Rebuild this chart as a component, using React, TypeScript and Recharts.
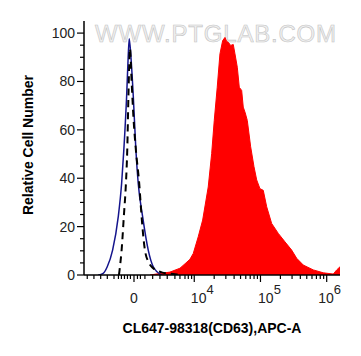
import React from 'react';
import { ComposedChart, Area, Line, XAxis, YAxis } from 'recharts';

// x values are in display "decades" (biexponential axis, 0 sits at 3.09)
const stainedT = [3.331, 3.452, 3.633, 3.784, 3.875, 3.935, 3.985, 4.06, 4.127, 4.211, 4.263, 4.302, 4.347, 4.388, 4.429, 4.464, 4.49, 4.514, 4.55, 4.589, 4.615, 4.65, 4.68, 4.716, 4.74, 4.77, 4.801, 4.852, 4.902, 4.943, 4.992, 5.042, 5.094, 5.169, 5.269, 5.37, 5.471, 5.547, 5.647, 5.798, 5.949, 6.1, 6.151, 6.201];
const stainedV = [0, 0.5, 1.2, 2.8, 5, 6.5, 8.9, 15.8, 22.7, 36.4, 50.2, 63.9, 77.6, 91.4, 96.9, 98.2, 96.5, 96.2, 94.9, 95.3, 91.4, 85.9, 77.6, 76.3, 69.4, 67, 63.9, 53, 44.8, 39.3, 35.7, 35, 28.2, 21.3, 17.2, 13.7, 10.3, 6.9, 4.1, 2.1, 0.9, 0.4, 2.1, 3.4];

const blankT = [2.55, 2.625, 2.686, 2.767, 2.852, 2.903, 2.936, 2.979, 3.002, 3.018, 3.044, 3.079, 3.119, 3.154, 3.221, 3.305, 3.381, 3.508];
const blankV = [0, 0.7, 3.4, 10.3, 24, 37.8, 51.5, 74, 90, 97.7, 90, 74, 51.5, 37.8, 24, 10.3, 3.4, 0];

const isotypeT = [2.863, 2.878, 2.903, 2.936, 2.968, 2.988, 3.006, 3.029, 3.054, 3.082, 3.119, 3.169, 3.205, 3.255, 3.316, 3.381, 3.508, 3.708, 3.784];
const isotypeV = [0, 3.4, 10.3, 24, 37.8, 51.5, 74, 93.6, 80, 65, 51.5, 37.8, 24, 10.3, 5, 2.8, 1.1, 0.3, 0];

const xMajor = [3.09, 4, 5, 6];
const xMajorLabels = ['0', '4', '5', '6'];
const xMinor = [2.384, 2.485, 2.587, 2.687, 2.788, 2.855, 2.9, 2.946, 2.991, 3.036, 3.142, 3.187, 3.255, 3.372, 3.482, 3.592, 3.708, 3.784, 3.86, 3.91, 3.96,
  4.301, 4.477, 4.602, 4.699, 4.778, 4.845, 4.903, 4.954, 5.301, 5.477, 5.602, 5.699, 5.778, 5.845, 5.903, 5.954];
const yTicks = [0, 5, 10, 15, 20, 25, 30, 35, 40, 45, 50, 55, 60, 65, 70, 75, 80, 85, 90, 95, 100];

const zip = (t: number[], v: number[]) => t.map((x, i) => ({ t: x, v: v[i] }));
const stained = zip(stainedT, stainedV);
const blank = zip(blankT, blankV);
const isotype = zip(isotypeT, isotypeV);

const FONT = '"Liberation Sans", Arial, sans-serif';
const labelShift: Record<string, number> = { '0': 0, '4': 8, '5': 9, '6': 3 };

const XTick = (props: any) => {
  const { x, y, payload } = props;
  const idx = xMajor.indexOf(payload.value);
  const major = idx >= 0;
  const lab = major ? xMajorLabels[idx] : null;
  return (
    <g>
      <line x1={x} x2={x} y1={y} y2={y + (major ? 7 : 4)} stroke="#000" strokeWidth={1.2} />
      {lab === '0' && (
        <text x={x} y={y + 28} textAnchor="middle" fontSize={14} fontFamily={FONT} fill="#222">0</text>
      )}
      {lab && lab !== '0' && (
        <text x={x + labelShift[lab]} y={y + 28} textAnchor="middle" fontSize={14} fontFamily={FONT} fill="#222">
          10<tspan dy={-9} fontSize={13}>{lab}</tspan>
        </text>
      )}
    </g>
  );
};

const YTick = (props: any) => {
  const { x, y, payload } = props;
  const major = payload.value % 20 === 0;
  return (
    <g>
      <line x1={x - (major ? 7 : 4)} x2={x} y1={y} y2={y} stroke="#000" strokeWidth={1.2} />
      {major && (
        <text x={x - 9} y={y + 5} textAnchor="end" fontSize={14} fontFamily={FONT} fill="#222">{payload.value}</text>
      )}
    </g>
  );
};

export default function App() {
  const xDomain: [number, number] = [2.335, 6.201];
  return (
    <div style={{ position: 'absolute', left: 0, top: 0, width: 361, height: 356, background: '#fff' }}>
      <svg width={361} height={356} style={{ position: 'absolute', left: 0, top: 0 }}>
        <text x={95} y={41.5} fontSize={24} letterSpacing={0.8} fontFamily={FONT} fill="#f0f0f0" stroke="#c4c4c4" strokeWidth={0.6}>WWW.PTGLAB.COM</text>
        <text transform="translate(33,145) rotate(-90)" textAnchor="middle" fontSize={14} fontWeight="bold" fontFamily={FONT} fill="#000">Relative Cell Number</text>
        <text x={212} y={333} textAnchor="middle" fontSize={14} fontWeight="bold" fontFamily={FONT} fill="#000">CL647-98318(CD63),APC-A</text>
      </svg>
      <div style={{ position: 'absolute', left: 0, top: 0 }}>
        <ComposedChart width={361} height={356} margin={{ top: 21, right: 21, bottom: 51, left: 0 }}>
          <XAxis type="number" dataKey="t" domain={xDomain} ticks={[...xMinor, ...xMajor]} interval={0} tick={<XTick />}
            tickLine={false} tickSize={0} tickMargin={0} height={30} allowDataOverflow axisLine={{ stroke: '#000', strokeWidth: 1.5 }} />
          <XAxis xAxisId="top" orientation="top" type="number" domain={xDomain} height={0} tick={false} tickLine={false}
            axisLine={{ stroke: '#333', strokeWidth: 1 }} />
          <YAxis type="number" domain={[0, 105]} ticks={yTicks} interval={0} tick={<YTick />} tickLine={false}
            tickSize={0} tickMargin={0} width={84} allowDataOverflow axisLine={{ stroke: '#000', strokeWidth: 1.5 }} />
          <YAxis yAxisId="right" orientation="right" type="number" domain={[0, 105]} width={0} tick={false} tickLine={false}
            axisLine={{ stroke: '#000', strokeWidth: 1.2 }} />
          <Area data={stained} dataKey="v" type="linear" fill="#ff0000" fillOpacity={1} stroke="#ff0000" strokeWidth={1} isAnimationActive={false} dot={false} />
          <Line data={blank} dataKey="v" type="monotone" stroke="#14148c" strokeWidth={1.5} isAnimationActive={false} dot={false} />
          <Line data={isotype} dataKey="v" type="monotone" stroke="#000" strokeWidth={2} strokeDasharray="7 5" isAnimationActive={false} dot={false} />
        </ComposedChart>
      </div>
    </div>
  );
}
